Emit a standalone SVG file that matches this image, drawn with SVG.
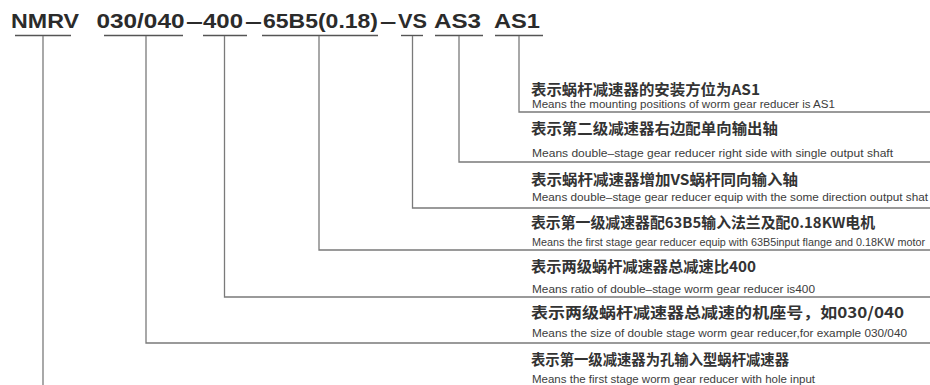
<svg xmlns="http://www.w3.org/2000/svg" width="930" height="385" viewBox="0 0 930 385">
<style>
.bg{fill:#ffffff}
.title{font-family:"Liberation Sans",Arial,sans-serif;font-weight:bold;font-size:21px;fill:#2b2b2b}
.ul{stroke:#555;stroke-width:1.4;fill:none}
.ln{stroke:#7a7a7a;stroke-width:1.3;fill:none}
.cn{font-family:"Noto Sans CJK SC","Liberation Sans",sans-serif;font-weight:bold;font-size:15px;fill:#333}
.en{font-family:"Liberation Sans",Arial,sans-serif;font-size:10px;fill:#3c3c3c}
</style>
<rect class="bg" x="0" y="0" width="930" height="385"/>
<g id="title">
<text class="title" x="11" y="28" textLength="68" lengthAdjust="spacingAndGlyphs">NMRV</text>
<text class="title" x="96.5" y="28" textLength="88" lengthAdjust="spacingAndGlyphs">030/040</text>
<text class="title" transform="translate(186,28) scale(1.45,1)">–</text>
<text class="title" x="203" y="28" textLength="40" lengthAdjust="spacingAndGlyphs">400</text>
<text class="title" transform="translate(245,28) scale(1.45,1)">–</text>
<text class="title" x="263" y="28" textLength="115" lengthAdjust="spacingAndGlyphs">65B5(0.18)</text>
<text class="title" transform="translate(380,28) scale(1.4,1)">–</text>
<text class="title" x="398" y="28" textLength="29" lengthAdjust="spacingAndGlyphs">VS</text>
<text class="title" x="434" y="28" textLength="47" lengthAdjust="spacingAndGlyphs">AS3</text>
<text class="title" x="494" y="28" textLength="46" lengthAdjust="spacingAndGlyphs">AS1</text>
</g>
<g id="underlines">
<line class="ul" x1="15" y1="35.5" x2="71" y2="35.5"/>
<line class="ul" x1="104" y1="35.5" x2="183" y2="35.5"/>
<line class="ul" x1="203" y1="35.5" x2="247" y2="35.5"/>
<line class="ul" x1="262" y1="35.5" x2="378" y2="35.5"/>
<line class="ul" x1="401" y1="35.5" x2="423" y2="35.5"/>
<line class="ul" x1="435" y1="35.5" x2="483" y2="35.5"/>
<line class="ul" x1="495" y1="35.5" x2="543" y2="35.5"/>
</g>
<g id="connectors">
<polyline class="ln" points="519,36 519,112 930,112"/>
<polyline class="ln" points="459,36 459,162 930,162"/>
<polyline class="ln" points="412.5,36 412.5,208 930,208"/>
<polyline class="ln" points="319,36 319,250 930,250"/>
<polyline class="ln" points="224.5,36 224.5,297 930,297"/>
<polyline class="ln" points="146,36 146,343 930,343"/>
<polyline class="ln" points="43,36 43,385"/>
</g>
<g id="node-as1">
<text class="cn" x="531" y="95" textLength="229" lengthAdjust="spacingAndGlyphs">表示蜗杆减速器的安装方位为AS1</text>
<text class="en" x="532" y="107.5" textLength="303" lengthAdjust="spacingAndGlyphs">Means the mounting positions of worm gear reducer is AS1</text>
</g>
<g id="node-as3">
<text class="cn" x="531" y="134" textLength="247" lengthAdjust="spacingAndGlyphs">表示第二级减速器右边配单向输出轴</text>
<text class="en" x="532" y="156.5" textLength="361" lengthAdjust="spacingAndGlyphs">Means double–stage gear reducer right side with single output shaft</text>
</g>
<g id="node-vs">
<text class="cn" x="531" y="185" textLength="267" lengthAdjust="spacingAndGlyphs">表示蜗杆减速器增加VS蜗杆同向输入轴</text>
<text class="en" x="532" y="201" textLength="396" lengthAdjust="spacingAndGlyphs">Means double–stage gear reducer equip with the some direction output shat</text>
</g>
<g id="node-65b5">
<text class="cn" x="531" y="228" textLength="344" lengthAdjust="spacingAndGlyphs">表示第一级减速器配63B5输入法兰及配0.18KW电机</text>
<text class="en" x="532" y="245.5" textLength="393" lengthAdjust="spacingAndGlyphs">Means the first stage gear reducer equip with 63B5input flange and 0.18KW motor</text>
</g>
<g id="node-400">
<text class="cn" x="531" y="272" textLength="225" lengthAdjust="spacingAndGlyphs">表示两级蜗杆减速器总减速比400</text>
<text class="en" x="532" y="292.5" textLength="283" lengthAdjust="spacingAndGlyphs">Means ratio of double–stage worm gear reducer is400</text>
</g>
<g id="node-030">
<text class="cn" x="531" y="318" textLength="373" lengthAdjust="spacingAndGlyphs">表示两级蜗杆减速器总减速的机座号，如030/040</text>
<text class="en" x="532" y="336.5" textLength="375" lengthAdjust="spacingAndGlyphs">Means the size of double stage worm gear reducer,for example 030/040</text>
</g>
<g id="node-nmrv">
<text class="cn" x="531" y="365" textLength="258" lengthAdjust="spacingAndGlyphs">表示第一级减速器为孔输入型蜗杆减速器</text>
<text class="en" x="532" y="382.5" textLength="283" lengthAdjust="spacingAndGlyphs">Means the first stage worm gear reducer with hole input</text>
</g>
</svg>
